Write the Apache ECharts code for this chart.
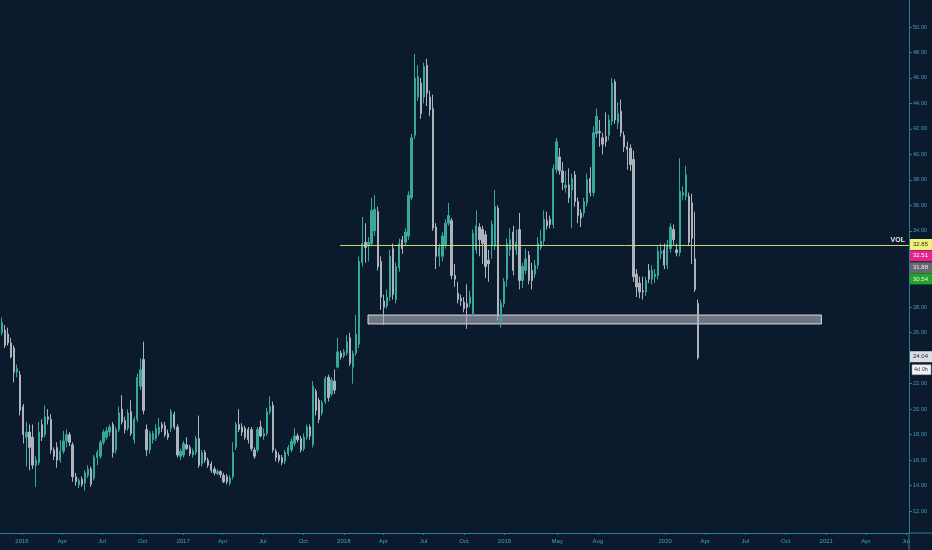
<!DOCTYPE html>
<html>
<head>
<meta charset="utf-8">
<title>Weekly chart</title>
<script src="https://cdn.jsdelivr.net/npm/echarts@6/dist/echarts.min.js"></script>
<style>
html, body { margin: 0; padding: 0; background: #0b1a2c; }
#chart { width: 932px; height: 550px; }
</style>
</head>
<body>
<div id="chart"></div>
<script>
// weekly bars, first one on Mon 16 Nov 2015
var firstWeek = [2015, 10, 16];

var opens = [26.0,26.2,25.9,25.2,24.8,22.9,22.7,20.2,17.8,18.2,
    17.8,15.6,15.8,18.8,18.0,19.4,19.2,16.8,17.0,16.0,
    16.7,17.5,18.0,17.2,14.7,14.05,14.5,14.2,14.8,15.3,
    14.6,16.2,16.3,17.4,17.8,18.2,18.8,16.8,18.4,20.0,
    19.1,18.5,19.8,17.6,19.2,21.8,23.9,18.4,16.8,17.6,
    17.7,18.1,18.8,18.7,18.1,18.5,19.6,18.6,16.3,16.4,
    17.2,17.0,16.4,16.6,17.7,15.7,16.6,16.0,15.7,15.3,
    14.95,15.1,14.8,14.7,14.2,14.7,17.0,18.8,18.6,18.5,
    18.4,18.4,16.8,16.8,18.6,17.9,18.1,19.8,20.3,16.7,
    16.4,16.2,15.9,16.5,16.8,17.3,17.9,17.7,16.9,17.8,
    18.6,17.2,21.4,20.7,19.7,20.6,22.5,21.2,22.2,23.3,
    24.4,24.2,24.4,25.6,23.3,24.4,25.1,31.5,33.1,32.8,
    33.0,34.0,35.5,31.6,28.5,28.1,28.8,32.6,28.6,31.1,
    33.3,33.1,33.6,36.6,41.5,44.5,45.6,44.5,47.0,44.5,
    43.6,34.3,32.0,32.0,32.9,34.6,34.8,30.5,29.1,28.7,
    28.4,28.3,28.3,27.5,32.5,34.3,34.1,33.7,31.7,32.8,
    32.8,35.8,26.9,28.3,30.2,32.5,33.9,32.5,34.1,30.1,
    30.9,32.1,30.9,30.6,31.3,32.7,33.2,34.8,34.9,34.5,
    38.8,39.8,38.7,37.4,37.6,37.2,38.4,36.3,35.4,35.4,
    36.2,38.1,37.0,41.6,41.8,41.3,41.4,41.5,42.6,45.7,
    42.5,43.4,41.5,40.6,40.5,39.6,30.6,29.9,29.3,29.2,
    30.9,30.2,30.4,30.5,32.2,32.5,31.3,32.6,34.1,32.5,
    32.3,36.8,36.7,36.7,36.2,31.8,28.3];

var closes = [26.8,25.0,25.2,24.1,22.9,23.2,19.9,18.0,18.2,17.0,
    15.6,16.0,18.2,17.8,19.4,19.2,16.8,16.3,16.0,16.7,
    17.5,18.0,17.4,14.7,14.3,14.4,14.1,15.0,15.3,14.1,
    16.2,16.6,17.4,18.2,18.3,18.6,16.6,18.4,19.7,19.0,
    18.4,19.7,18.1,19.2,22.5,23.1,19.9,16.8,18.1,18.1,
    18.5,18.6,18.5,18.0,17.8,19.8,18.6,16.4,16.7,17.3,
    16.9,16.5,16.7,17.7,15.6,16.6,16.0,15.6,15.2,15.0,
    15.1,14.85,14.3,14.3,14.6,16.6,18.8,18.4,18.2,17.8,
    17.6,16.9,16.3,18.4,17.9,18.1,19.8,20.2,16.8,16.2,
    16.0,15.8,16.6,17.0,17.5,17.9,17.6,16.8,17.8,18.6,
    17.9,21.8,19.9,19.2,20.5,22.4,20.9,22.3,21.5,24.5,
    24.1,24.5,25.3,23.6,24.4,25.9,31.6,33.0,32.7,33.1,
    35.6,35.7,31.2,28.8,28.0,28.8,32.0,29.0,31.2,33.0,
    32.6,33.9,36.8,41.3,46.0,46.1,43.2,46.9,44.8,43.5,
    34.2,32.0,32.7,33.6,34.6,35.2,30.5,30.2,28.6,28.5,
    27.9,28.0,28.8,33.8,34.4,33.3,33.0,31.2,31.4,34.5,
    35.9,27.3,28.3,30.0,33.0,33.3,30.9,33.1,30.1,31.2,
    31.8,30.1,30.1,31.3,33.0,33.2,34.9,34.4,34.5,38.9,
    41.0,38.7,37.8,37.6,36.6,38.1,36.3,35.2,35.0,36.3,
    38.0,37.0,41.7,43.0,41.7,40.8,41.0,42.7,45.6,42.7,
    43.2,41.7,40.6,40.4,39.2,30.4,29.6,29.2,29.2,30.1,
    30.2,30.9,30.6,32.4,32.4,31.3,32.9,34.3,33.3,32.3,
    37.1,37.0,38.4,33.1,33.4,29.4,24.04];

var lows = [25.8,24.8,25.0,24.0,22.1,22.5,19.5,17.3,15.5,15.2,
    15.3,13.9,15.6,17.5,17.8,18.8,16.5,16.0,15.4,15.8,
    16.5,17.0,17.1,14.3,14.0,13.8,13.9,13.6,14.6,13.9,
    14.4,15.6,16.1,17.2,17.6,17.9,16.2,16.5,18.2,18.8,
    18.1,18.3,17.9,17.3,19.0,21.5,19.6,16.3,16.5,17.3,
    17.5,17.9,18.2,17.8,17.6,18.2,18.4,16.2,16.0,16.2,
    16.8,16.3,16.2,16.4,15.4,15.5,15.8,15.4,15.0,14.8,
    14.8,14.6,14.2,14.1,14.0,14.5,16.8,18.2,17.9,17.6,
    17.3,16.7,16.1,16.6,17.8,17.6,17.9,19.6,16.6,15.9,
    15.8,15.6,15.7,16.3,16.6,17.1,17.4,16.6,16.7,17.6,
    17.6,17.0,19.5,18.9,19.5,20.4,20.6,21.0,21.2,23.2,
    23.9,24.0,24.2,23.4,22.0,24.2,24.8,31.2,31.5,31.6,
    32.8,33.6,30.9,27.8,26.6,27.9,28.5,28.6,28.3,30.8,
    32.2,32.8,33.3,36.4,41.2,44.2,42.8,44.0,43.8,43.0,
    34.0,31.0,31.2,31.6,32.6,34.4,30.2,29.6,28.3,28.1,
    27.6,26.3,28.0,27.3,32.2,32.0,31.4,30.3,30.0,31.8,
    32.5,27.0,26.4,28.0,29.6,32.0,30.5,32.1,29.4,29.5,
    30.6,29.8,29.4,30.3,31.0,32.5,32.9,34.1,34.2,34.2,
    38.5,38.4,37.2,37.0,36.2,34.2,35.9,34.6,34.3,35.1,
    35.9,36.7,36.7,41.3,40.6,40.0,40.6,41.1,42.3,42.4,
    42.0,41.4,40.2,38.8,38.7,30.0,28.8,28.7,28.6,28.9,
    29.9,29.8,29.9,30.2,31.8,31.0,31.0,32.3,32.9,32.0,
    32.0,36.4,36.4,32.8,31.4,29.2,23.9];

var highs = [27.2,26.6,26.4,25.6,25.0,23.5,23.0,20.4,19.0,18.8,
    18.8,16.3,19.0,19.2,20.3,20.0,19.6,17.0,17.4,17.6,
    18.3,18.4,18.2,17.4,15.0,14.6,14.7,15.2,15.6,15.5,
    16.4,16.8,17.6,18.4,18.6,18.8,19.0,18.6,20.2,21.1,
    19.4,20.0,20.7,19.4,22.8,24.0,25.3,18.8,18.3,18.3,
    18.8,19.3,19.0,19.0,18.4,20.0,19.8,18.8,16.9,17.5,
    17.8,17.2,16.9,17.9,19.5,16.8,16.8,16.2,15.9,15.5,
    15.3,15.2,15.0,14.9,14.8,17.4,19.0,20.0,18.9,18.7,
    18.6,18.6,17.0,18.6,19.1,18.5,20.1,21.0,20.6,16.9,
    16.6,16.4,16.8,17.2,17.7,18.5,18.1,17.9,18.1,18.8,
    18.8,22.2,21.6,20.9,20.7,22.6,22.7,22.5,23.1,25.6,
    24.6,24.7,25.8,26.0,24.6,27.4,32.0,35.1,34.6,33.5,
    36.6,36.8,35.9,32.0,29.0,29.4,32.5,33.0,31.5,33.4,
    33.6,34.2,37.1,41.6,47.9,47.0,46.0,47.2,47.5,45.0,
    44.7,34.6,33.0,33.9,34.9,36.2,35.0,31.4,30.0,29.0,
    28.8,29.8,29.3,34.1,35.6,34.6,34.4,34.0,32.5,34.8,
    37.2,36.0,28.6,30.3,33.4,34.2,34.4,34.1,35.4,31.5,
    32.6,32.4,31.5,31.7,33.5,34.1,35.6,35.5,35.2,39.2,
    41.3,40.5,39.4,38.7,38.9,38.5,38.7,36.6,35.7,36.6,
    38.5,39.0,42.2,43.6,42.7,41.7,43.3,43.1,46.0,45.9,
    44.1,44.3,41.8,41.0,40.8,40.3,31.0,30.4,30.4,30.4,
    31.4,31.3,31.0,32.8,33.0,33.0,33.3,34.6,34.5,33.0,
    39.7,37.5,39.1,37.0,36.9,35.5,28.6];

// date axis labels
var xTicks = ['2016-01-01','2016-04-01','2016-07-01','2016-10-01',
    '2017-01-01','2017-04-01','2017-07-01','2017-10-01',
    '2018-01-01','2018-04-01','2018-07-01','2018-10-01',
    '2019-01-01','2019-05-01','2019-08-01',
    '2020-01-01','2020-04-01','2020-07-01','2020-10-01',
    '2021-01-01','2021-04-01','2021-07-01'];
var xTickLabels = ['2016','Apr','Jul','Oct','2017','Apr','Jul','Oct',
    '2018','Apr','Jul','Oct','2019','May','Aug',
    '2020','Apr','Jul','Oct','2021','Apr','Jul'];
var yTicks = [12,14,16,18,20,22,24,26,28,30,32,34,36,38,40,42,44,46,48,50];

// drawn levels
var volLevel = 32.85;
var volLabel = 'VOL';
var volStart = '2017-12-23';
var zoneTop = 27.39, zoneBottom = 26.69;
var zoneStart = '2018-02-25', zoneEnd = '2020-12-21';

// price tags on the right scale
var tagTexts = ['32.85', '32.51', '31.88', '30.54', '24.04'];
var tagValues = [32.85, 32.51, 31.88, 30.54, 24.04];
var countdownText = '4d 0h';

function ts(s) {
    var p = s.split('-');
    return new Date(+p[0], +p[1] - 1, +p[2]).getTime();
}

var xMin = ts('2015-11-12');
var xMax = ts('2021-07-08');

var candles = [];
for (var i = 0; i < closes.length; i++) {
    var d = new Date(firstWeek[0], firstWeek[1], firstWeek[2] + 7 * i).getTime();
    candles.push([d, opens[i], closes[i], lows[i], highs[i]]);
}

var xTickTs = xTicks.map(ts);
var xLabelMap = {};
xTickTs.forEach(function (t, k) { xLabelMap[t] = xTickLabels[k]; });

var axisColor = '#2a7f95';
var labelColor = '#45a2b9';
var upColor = '#35a99b';
var downColor = '#aeb3bc';
var volColor = '#d6d672';
var font = 'Liberation Sans';

var chart = echarts.init(document.getElementById('chart'));
var option = {
    backgroundColor: '#0b1a2c',
    animation: false,
    grid: { left: 0, right: 23, top: 0, bottom: 17 },
    xAxis: {
        type: 'value',
        min: xMin,
        max: xMax,
        axisLine: { show: true, lineStyle: { color: axisColor, width: 1 } },
        axisTick: { show: true, customValues: xTickTs, length: 2, lineStyle: { color: axisColor } },
        axisLabel: {
            customValues: xTickTs,
            formatter: function (v) { return xLabelMap[v] || ''; },
            color: labelColor,
            fontSize: 6,
            fontFamily: font,
            margin: 5
        },
        splitLine: { show: false }
    },
    yAxis: {
        type: 'value',
        position: 'right',
        min: 10.28,
        max: 52.12,
        axisLine: { show: true, lineStyle: { color: axisColor, width: 1 } },
        axisTick: { show: true, customValues: yTicks, length: 3, lineStyle: { color: axisColor } },
        axisLabel: {
            customValues: yTicks,
            formatter: function (v) { return v.toFixed(2); },
            color: labelColor,
            fontSize: 5.5,
            fontFamily: font,
            margin: 4
        },
        splitLine: { show: false }
    },
    series: [{
        type: 'candlestick',
        data: candles,
        encode: { x: 0, y: [1, 2, 3, 4] },
        barWidth: 1.8,
        itemStyle: {
            color: upColor,
            color0: downColor,
            borderColor: upColor,
            borderColor0: downColor,
            borderWidth: 1
        }
    }, {
        // the horizontal VOL level
        type: 'line',
        data: [[ts(volStart), volLevel], [xMax, volLevel]],
        symbol: 'none',
        silent: true,
        z: 5,
        lineStyle: { color: volColor, width: 1 },
        itemStyle: { color: volColor }
    }, {
        type: 'line',
        data: [],
        z: 10,
        markArea: {
            silent: true,
            itemStyle: {
                color: 'rgba(205,210,220,0.5)',
                borderColor: 'rgba(235,238,244,0.9)',
                borderWidth: 1
            },
            data: [[{ coord: [ts(zoneStart), zoneTop] }, { coord: [ts(zoneEnd), zoneBottom] }]]
        }
    }]
};
chart.setOption(option);

// tags on the price scale, nudged apart the way the platform stacks them
var tagShift = [-1, 6, 10, 4, -1];
var tagBg = ['#f2f27a', '#e5258c', '#666a70', '#22a42a', '#d9dde4'];
var tagFg = ['#2a2a2a', '#ffffff', '#eeeeee', '#f4f4f4', '#2a2a2a'];
var axisX = chart.convertToPixel({ xAxisIndex: 0 }, xMax);
var axisY = chart.convertToPixel({ yAxisIndex: 0 }, 10.28);
var volY = chart.convertToPixel({ yAxisIndex: 0 }, volLevel);
var elements = [
    { type: 'line', z: 20, shape: { x1: axisX, y1: axisY, x2: 932, y2: axisY }, style: { stroke: axisColor, lineWidth: 1 } },
    { type: 'line', z: 20, shape: { x1: axisX, y1: axisY, x2: axisX, y2: 550 }, style: { stroke: axisColor, lineWidth: 1 } },
    { type: 'text', z: 20, x: axisX - 4, y: volY - 2, style: { text: volLabel, fill: '#ececec', fontSize: 7, fontWeight: 'bold', fontFamily: font, align: 'right', verticalAlign: 'bottom' } }
];
tagValues.forEach(function (v, k) {
    var cy = chart.convertToPixel({ yAxisIndex: 0 }, v) + tagShift[k];
    elements.push({ type: 'rect', z: 20, shape: { x: axisX + 1, y: cy - 5.5, width: 22, height: 11 }, style: { fill: tagBg[k] } });
    elements.push({ type: 'text', z: 21, x: axisX + 4, y: cy, style: { text: tagTexts[k], fill: tagFg[k], fontSize: 6, fontFamily: font, verticalAlign: 'middle' } });
});
var cdY = chart.convertToPixel({ yAxisIndex: 0 }, tagValues[4]) + 12;
elements.push({ type: 'rect', z: 20, shape: { x: axisX + 3, y: cdY - 5, width: 19, height: 10 }, style: { fill: '#f1f2f4', stroke: '#9aa0a8', lineWidth: 0.5 } });
elements.push({ type: 'text', z: 21, x: axisX + 5, y: cdY, style: { text: countdownText, fill: '#333333', fontSize: 5.5, fontFamily: font, verticalAlign: 'middle' } });
chart.setOption({ graphic: elements });
</script>
</body>
</html>
